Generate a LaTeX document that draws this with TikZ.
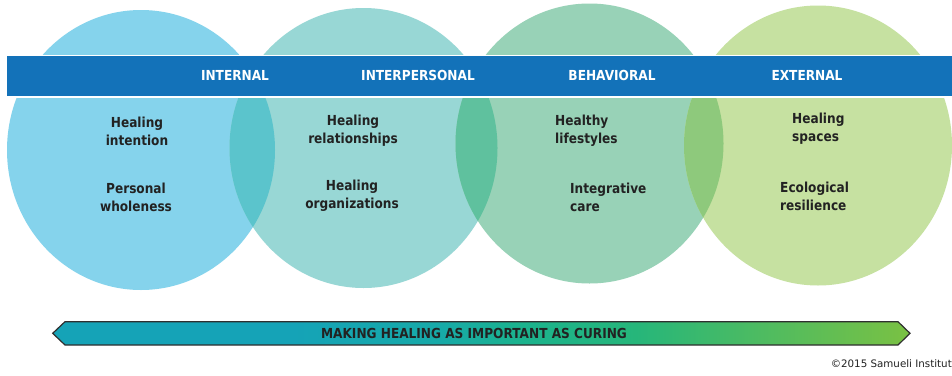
\documentclass[tikz,border=0pt]{standalone}
\usepackage{fontspec}
\newfontfamily\dvc[FakeStretch=0.88]{DejaVu Sans}
\newfontfamily\dvr{DejaVu Sans}
\definecolor{cA}{HTML}{85D3EC}
\definecolor{cB}{HTML}{98D7D5}
\definecolor{cC}{HTML}{98D2B7}
\definecolor{cD}{HTML}{C6E1A1}
\definecolor{oAB}{HTML}{5BC4CC}
\definecolor{oBC}{HTML}{5FC19E}
\definecolor{oCD}{HTML}{8EC97C}
\definecolor{bandblue}{HTML}{1372B9}
\definecolor{txtdark}{HTML}{222222}
\definecolor{arrline}{HTML}{2F2F2F}
\definecolor{gA}{HTML}{15A3B7}
\definecolor{gB}{HTML}{17AAA8}
\definecolor{gC}{HTML}{1BB38E}
\definecolor{gD}{HTML}{26B67A}
\definecolor{gE}{HTML}{4CBB62}
\definecolor{gF}{HTML}{7AC143}
\pgfdeclarehorizontalshading{arrowshade}{100bp}{color(0bp)=(gA); color(25bp)=(gA); color(39bp)=(gA); color(47.6bp)=(gB); color(52.2bp)=(gC); color(59bp)=(gD); color(66bp)=(gE); color(75bp)=(gF); color(100bp)=(gF)}
\tikzset{
  ctext/.style={font=\dvc\bfseries\fontsize{13.8}{18}\selectfont, text=txtdark, inner sep=0pt, align=center},
  ltext/.style={font=\dvc\bfseries\fontsize{13.8}{18}\selectfont, text=txtdark, inner sep=0pt, align=left, anchor=west},
  bandlabel/.style={font=\dvc\bfseries\fontsize{13.8}{16}\selectfont, text=white, inner sep=0pt},
  circ/.style={x radius=134pt, y radius=140pt},
}
\begin{document}
\begin{tikzpicture}[x=1pt,y=-1pt]
\useasboundingbox (0,0) rectangle (952,375);
\fill[white] (0,0) rectangle (952,375);
% circle centres
\coordinate (CA) at (141,150);
\coordinate (CB) at (363.5,148);
\coordinate (CC) at (589.5,143.5);
\coordinate (CD) at (818,145.5);
% circles
\fill[cA] (CA) ellipse [circ];
\fill[cB] (CB) ellipse [circ];
\fill[cC] (CC) ellipse [circ];
\fill[cD] (CD) ellipse [circ];
% overlaps
\begin{scope}
  \clip (CA) ellipse [circ];
  \fill[oAB] (CB) ellipse [circ];
\end{scope}
\begin{scope}
  \clip (CB) ellipse [circ];
  \fill[oBC] (CC) ellipse [circ];
\end{scope}
\begin{scope}
  \clip (CC) ellipse [circ];
  \fill[oCD] (CD) ellipse [circ];
\end{scope}
% band
\fill[bandblue, draw=white, line width=1.5pt] (6,55.5) rectangle (962,97);
\node[bandlabel] (lInternal) at (235,75.5) {INTERNAL};
\node[bandlabel] (lInterpersonal) at (418,75.5) {INTERPERSONAL};
\node[bandlabel] (lBehavioral) at (612,75.5) {BEHAVIORAL};
\node[bandlabel] (lExternal) at (807,75.5) {EXTERNAL};
% circle texts
\node[ctext] (tA1) at (137,131) {Healing\\intention};
\node[ctext] (tA2) at (136,197) {Personal\\wholeness};
\node[ctext] (tB1) at (353,130.5) {Healing\\relationships};
\node[ctext] (tB2) at (352,196) {Healing\\organizations};
\node[ltext] (tC1) at (555,131) {Healthy\\lifestyles};
\node[ltext] (tC2) at (570,197) {Integrative\\care};
\node[ltext] (tD1) at (792,129) {Healing\\spaces};
\node[ltext] (tD2) at (780,196) {Ecological\\resilience};
% bottom double arrow
\coordinate (aL) at (52.7,333.3);
\coordinate (aR) at (910,333.3);
\path[shading=arrowshade, draw=arrline, line width=1.2pt, line join=miter]
  (aL) -- (65,321.7) -- (898,321.7) -- (aR) -- (898,345) -- (65,345) -- cycle;
\node[font=\dvc\bfseries\fontsize{13.8}{16}\selectfont, text=txtdark, inner sep=0pt] (arrowtext) at (474,333.5) {MAKING HEALING AS IMPORTANT AS CURING};
% copyright
\node[font=\dvr\fontsize{10.3}{12}\selectfont, text=txtdark, inner sep=0pt, anchor=east] (copy) at (952,363.5) {©2015 Samueli Institut};
\end{tikzpicture}
\end{document}
